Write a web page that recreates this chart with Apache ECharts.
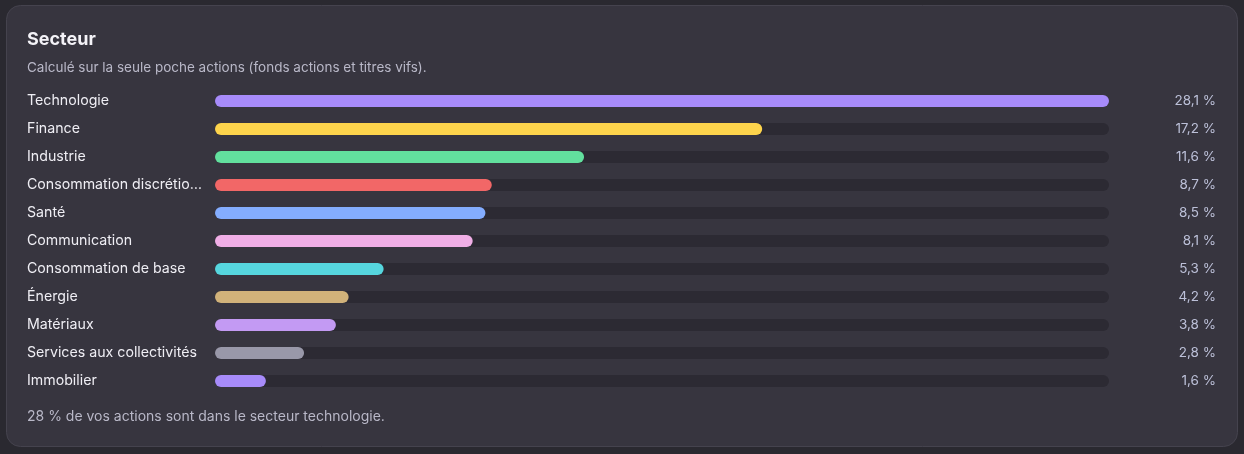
<!DOCTYPE html>
<html>
<head>
<meta charset="utf-8">
<script src="https://cdn.jsdelivr.net/npm/echarts@6/dist/echarts.min.js"></script>
<style>
html,body{margin:0;padding:0;background:#2a2930;}
#c{width:1244px;height:454px;}
</style>
</head>
<body>
<div id="c"></div>
<script>
const categories = ["Technologie","Finance","Industrie","Consommation discrétionnaire","Santé","Communication","Consommation de base","Énergie","Matériaux","Services aux collectivités","Immobilier"];
const values = [28.1,17.2,11.6,8.7,8.5,8.1,5.3,4.2,3.8,2.8,1.6];
const colors = ["#a78bfa","#fdd44c","#62e09e","#f26767","#84adff","#f0aee6","#56d6de","#d1b27a","#c39af3","#9998a9","#a78bfa"];
const valueLabels = values.map(v => v.toFixed(1).replace('.', ',') + ' %');
const titleText = "Secteur";
const subtitleText = "Calculé sur la seule poche actions (fonds actions et titres vifs).";
const footerText = "28 % de vos actions sont dans le secteur technologie.";

const FONT = "Inter, 'Noto Sans', sans-serif";
const maxV = Math.max(...values);

const chart = echarts.init(document.getElementById('c'), null, {renderer:'canvas'});
chart.setOption({
  backgroundColor: '#2a2930',
  animation: false,
  graphic: [
    {type:'rect', shape:{x:6.5,y:5.5,width:1231,height:441,r:14}, style:{fill:'#37353f',stroke:'#45434e',lineWidth:1}, z:-10},
    {type:'text', left:27, top:31, style:{text:titleText, fill:'#f4f3f8', font:"700 18px " + FONT}},
    {type:'text', left:27, top:61, style:{text:subtitleText, fill:'#b9b8c8', font:"13.5px " + FONT}},
    {type:'text', left:27, top:410, style:{text:footerText, fill:'#b9b8c8', font:"14px " + FONT}}
  ],
  grid: {left:215, right:135, top:87, height:308, containLabel:false},
  xAxis: {type:'value', min:0, max:maxV, show:false},
  yAxis: [
    {type:'category', data:categories, inverse:true,
     axisLine:{show:false}, axisTick:{show:false}, splitLine:{show:false},
     axisLabel:{align:'left', margin:188, color:'#efeef4', fontFamily:FONT, fontSize:14.2,
       padding:[3,0,0,0], width:178, overflow:'truncate', ellipsis:'…'}},
    {type:'category', data:valueLabels, inverse:true, position:'right',
     axisLine:{show:false}, axisTick:{show:false}, splitLine:{show:false},
     axisLabel:{align:'right', margin:107, color:'#bcc0d8', fontFamily:FONT, fontSize:13.5,
       padding:[3,0,0,0]}}
  ],
  series: [
    {type:'bar', data:values.map(() => maxV), barWidth:12, barGap:'-100%', silent:true,
     itemStyle:{color:'#2c2a33', borderRadius:6}, z:1},
    {type:'bar', data:values.map((v,i) => ({value:v, itemStyle:{color:colors[i]}})), barWidth:12,
     itemStyle:{borderRadius:6}, z:2}
  ]
});
</script>
</body>
</html>
